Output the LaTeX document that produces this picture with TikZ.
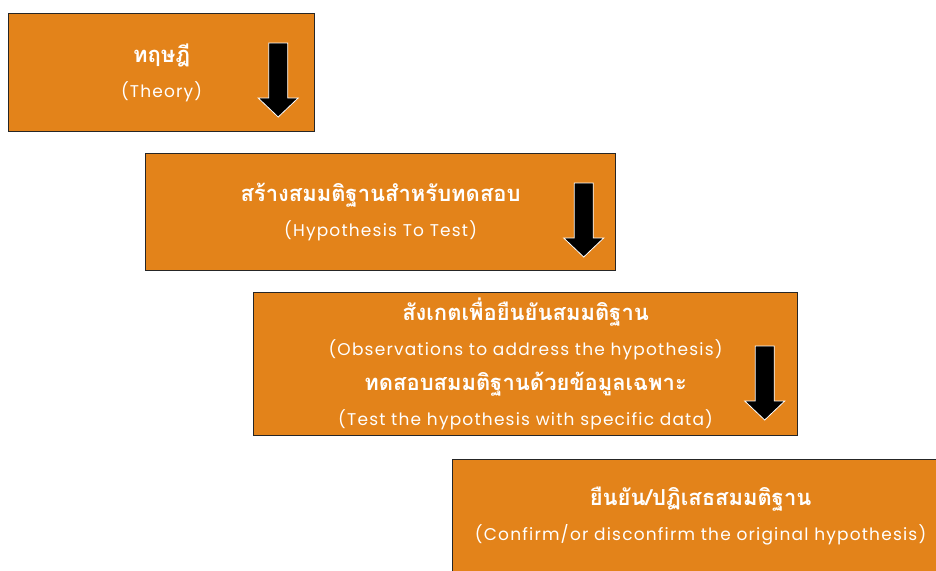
\documentclass[tikz,border=0pt]{standalone}
\usepackage{fontspec}
\usetikzlibrary{positioning}
\newfontfamily\thaifont[Script=Thai]{Loma}
\newfontfamily\engfont[LetterSpace=7]{Poppins}
\newcommand{\thaitext}[1]{{\thaifont\bfseries\fontsize{22}{35}\selectfont #1}}
\definecolor{boxorange}{HTML}{E3831A}
\tikzset{
  stepbox/.style={draw=black!85, line width=1.2pt, fill=boxorange, text=white,
    anchor=north west, align=center, inner sep=0pt,
    font=\engfont\fontsize{17}{35}\selectfont},
  downarrow/.pic={
    \draw[white, fill=black, line width=0.8pt]
      (-9.5,0) -- (9.5,0) -- (9.5,55) -- (20,55) -- (0,74)
      -- (-20,55) -- (-9.5,55) -- cycle;}
}
\begin{document}
\begin{tikzpicture}[x=1pt,y=-1pt]
\useasboundingbox (0,0) rectangle (936,570);
\clip (0,0) rectangle (936,570);
% boxes
\node[stepbox, minimum width=306pt, minimum height=118pt] (theory) at (8,13)
  {\thaitext{ทฤษฎี}\\(Theory)};
\node[stepbox, minimum width=470pt, minimum height=117pt] (hypo) at (145,153)
  {\thaitext{สร้างสมมติฐานสำหรับทดสอบ}\\(Hypothesis To Test)};
\node[stepbox, minimum width=544pt, minimum height=143pt] (observe) at (253,292)
  {\thaitext{สังเกตเพื่อยืนยันสมมติฐาน}\\(Observations to address the hypothesis)\\
   \thaitext{ทดสอบสมมติฐานด้วยข้อมูลเฉพาะ}\\(Test the hypothesis with specific data)};
\node[stepbox, minimum width=496pt, minimum height=112pt] (confirm) at (452,459)
  {\thaitext{ยืนยัน/ปฏิเสธสมมติฐาน}\\(Confirm/or disconfirm the original hypothesis)};
% arrows
\pic at ([shift={(-37,30)}]theory.north east) {downarrow};
\pic at ([shift={(-32.5,30)}]hypo.north east) {downarrow};
\pic at ([shift={(-33.5,54)}]observe.north east) {downarrow};
\end{tikzpicture}
\end{document}
